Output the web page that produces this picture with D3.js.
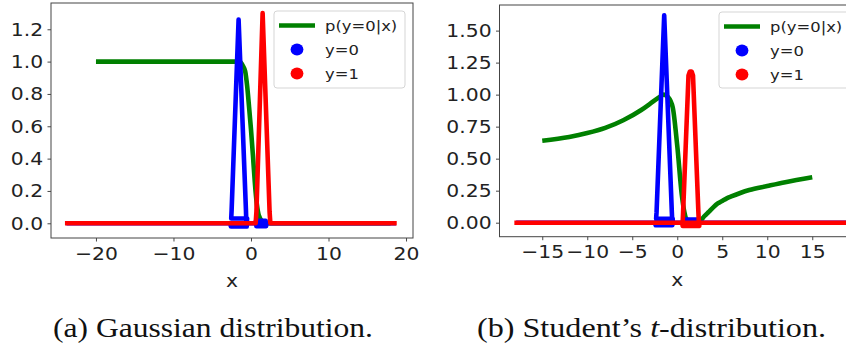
<!DOCTYPE html>
<html>
<head>
<meta charset="utf-8">
<script src="https://cdn.jsdelivr.net/npm/d3@7"></script>
<style>
  html, body { margin: 0; padding: 0; background: #fff; }
  svg { display: block; }
</style>
</head>
<body>
<svg id="chart" width="846" height="347"></svg>
<script>
// ---------- data ----------
const legendLabels = ["p(y=0|x)", "y=0", "y=1"];
const seriesColors = ["#008000", "#0000ff", "#ff0000"];

// Panel (a) Gaussian distribution
const xTicksA = [-20, -10, 0, 10, 20];
const yTicksA = [0, 0.2, 0.4, 0.6, 0.8, 1.0, 1.2];
const greenAX = [-20, -2, -1.5, -1, -0.75, -0.5, -0.25, 0, 0.25, 0.5, 0.75, 1, 1.5, 2, 18];
const greenAY = [1, 1, 1.0, 0.97, 0.94, 0.85, 0.72, 0.58, 0.42, 0.25, 0.12, 0.05, 0.01, 0, 0];
const blueAX = [-23.8, -2.65, -2.6, -0.55, -0.5, -2.55, -2.5, -1.6, -0.65, -0.6, 0.55, 0.65, 1.9, 1.95, 0.7, 0.65, 2.0, 18.7];
const blueAY = [0, 0, -0.02, -0.02, 0.03, 0.03, 0.08, 1.26, 0.08, 0, 0, 0.015, 0.015, -0.018, -0.018, 0, 0, 0];
const redAX = [-24, 0.6, 0.7, 1.5, 2.4, 2.5, 18.8];
const redAY = [0, 0, 0.07, 1.30, 0.07, 0, 0];

// Panel (b) Student's t-distribution
const xTicksB = [-15, -10, -5, 0, 5, 10, 15];
const yTicksB = [0, 0.25, 0.5, 0.75, 1.0, 1.25, 1.5];
const greenBX = [-15, -12, -10, -8, -6, -4, -3, -2, -1.5, -1, -0.5, 0, 0.5, 0.8, 1, 1.5, 2, 2.5, 3, 3.5, 4, 4.5, 5, 5.5, 6, 7, 8, 10, 12, 15];
const greenBY = [0.64, 0.67, 0.70, 0.74, 0.80, 0.88, 0.93, 0.98, 1.0, 0.98, 0.9, 0.6, 0.22, 0.08, 0.03, 0.005, 0, 0.01, 0.05, 0.085, 0.12, 0.15, 0.17, 0.19, 0.205, 0.232, 0.255, 0.286, 0.316, 0.355];
const blueBX = [-17.9, -2.45, -2.4, -0.55, -0.5, -2.35, -2.3, -1.45, -0.6, -0.55, 0.75, 0.8, 2.2, 2.2, 0.8, 0.75, 19.5];
const blueBY = [0, 0, -0.02, -0.02, 0.03, 0.03, 0.08, 1.62, 0.08, 0, 0, 0.025, 0.025, -0.01, -0.01, 0, 0];
const redBX = [-18.1, 0.6, 0.65, 1.25, 1.4, 1.6, 1.75, 2.35, 2.4, 2.45, 0.6, 0.55, 19.5];
const redBY = [0, 0, 0.08, 1.15, 1.18, 1.18, 1.15, 0.08, 0, -0.025, -0.025, 0, 0];

const captionA = ["(a) Gaussian distribution."];
const captionB = ["(b) Student\u2019s ", "t", "-distribution."];

// ---------- drawing ----------
const svg = d3.select("#chart");
const SX = 1.13;           // horizontal stretch of the reference image
const SANS = "'DejaVu Sans', sans-serif";
const SERIF = "'Liberation Serif', 'Times New Roman', serif";

function zip(xs, ys) { return xs.map((x, i) => [x, ys[i]]); }

function drawPanel(cfg) {
  const g = svg.append("g");
  const x = d3.scaleLinear().domain(cfg.xDomain).range([cfg.left, cfg.right]);
  const y = d3.scaleLinear().domain(cfg.yDomain).range([cfg.bottom, cfg.top]);
  const clipId = "clip" + cfg.id;
  svg.append("clipPath").attr("id", clipId).append("rect")
    .attr("x", cfg.left).attr("y", cfg.top)
    .attr("width", cfg.right - cfg.left).attr("height", cfg.bottom - cfg.top);

  const plot = g.append("g").attr("clip-path", `url(#${clipId})`);
  const line = d3.line().x(d => x(d[0])).y(d => y(d[1]));
  const smooth = d3.line().x(d => x(d[0])).y(d => y(d[1])).curve(d3.curveMonotoneX);

  cfg.series.forEach((s, i) => {
    plot.append("path")
      .datum(zip(s[0], s[1]))
      .attr("d", i === 0 ? smooth : line)
      .attr("fill", "none")
      .attr("stroke", seriesColors[i])
      .attr("stroke-width", 4.6)
      .attr("stroke-linejoin", "round")
      .attr("stroke-linecap", "butt");
  });

  // axes
  const xAxis = d3.axisBottom(x).tickValues(cfg.xTicks).tickSize(3.5).tickPadding(4)
    .tickFormat(d => d < 0 ? "\u2212" + Math.abs(d) : String(d));
  const yAxis = d3.axisLeft(y).tickValues(cfg.yTicks).tickSize(3.5).tickPadding(3.5)
    .tickFormat(d3.format(cfg.yFormat));
  const gx = g.append("g").attr("transform", `translate(0,${cfg.bottom})`).call(xAxis);
  const gy = g.append("g").attr("transform", `translate(${cfg.left},0)`).call(yAxis);
  [gx, gy].forEach(ax => {
    ax.select(".domain").remove();
    ax.selectAll(".tick line").attr("stroke", "#333").attr("stroke-width", 0.9);
    ax.selectAll(".tick text").attr("fill", "#222").attr("font-size", 18)
      .style("font-family", SANS).attr("transform", `scale(${SX},1)`);
  });
  gx.selectAll(".tick text").attr("dy", "0.78em");
  // frame
  g.append("rect")
    .attr("x", cfg.left).attr("y", cfg.top)
    .attr("width", cfg.right - cfg.left).attr("height", cfg.bottom - cfg.top)
    .attr("fill", "none").attr("stroke", "#444").attr("stroke-width", 1);

  // x label
  g.append("text")
    .attr("transform", `translate(${(cfg.left + cfg.right) / 2},${cfg.bottom + 49}) scale(${SX},1)`)
    .attr("text-anchor", "middle").attr("font-size", 18).attr("fill", "#222")
    .style("font-family", SANS).text("x");

  // legend
  const L = cfg.legend;
  const lg = g.append("g");
  lg.append("rect").attr("x", L.x).attr("y", L.y).attr("width", L.w).attr("height", L.h)
    .attr("rx", 3).attr("fill", "#fff").attr("fill-opacity", 0.85)
    .attr("stroke", "#d5d5d5").attr("stroke-width", 1);
  legendLabels.forEach((lab, i) => {
    const cy = L.y + 14.5 + i * 24;
    if (i === 0) {
      lg.append("line").attr("x1", L.x + 5).attr("x2", L.x + 41).attr("y1", cy).attr("y2", cy)
        .attr("stroke", seriesColors[0]).attr("stroke-width", 4.6);
    } else {
      lg.append("ellipse").attr("cx", L.x + 23).attr("cy", cy).attr("rx", 6.4).attr("ry", 6)
        .attr("fill", seriesColors[i]);
    }
    lg.append("text")
      .attr("transform", `translate(${L.x + 51},${cy}) scale(${SX},1)`)
      .attr("dy", "0.35em")
      .attr("font-size", 14.5).attr("fill", "#222").style("font-family", SANS).text(lab);
  });
}

drawPanel({
  id: "A", left: 51, right: 413, top: 3, bottom: 238,
  xDomain: [-25.8, 20.9], yDomain: [-0.091, 1.3625],
  xTicks: xTicksA, yTicks: yTicksA, yFormat: ".1f",
  series: [[greenAX, greenAY], [blueAX, blueAY], [redAX, redAY]],
  legend: { x: 274, y: 11, w: 131, h: 77 }
});

drawPanel({
  id: "B", left: 499.5, right: 855, top: 5, bottom: 236.7,
  xDomain: [-19.75, 19.75], yDomain: [-0.1094, 1.7],
  xTicks: xTicksB, yTicks: yTicksB, yFormat: ".2f",
  series: [[greenBX, greenBY], [blueBX, blueBY], [redBX, redBY]],
  legend: { x: 719, y: 12, w: 140, h: 76 }
});

// captions
svg.append("text").attr("x", 53).attr("y", 337)
  .style("font-family", SERIF).attr("font-size", 28)
  .attr("fill", "#111").attr("textLength", 320).attr("lengthAdjust", "spacingAndGlyphs")
  .text(captionA[0]);
const cb = svg.append("text").attr("x", 477).attr("y", 337)
  .style("font-family", SERIF).attr("font-size", 28)
  .attr("fill", "#111").attr("textLength", 349).attr("lengthAdjust", "spacingAndGlyphs");
cb.append("tspan").text(captionB[0]);
cb.append("tspan").attr("font-style", "italic").text(captionB[1]);
cb.append("tspan").text(captionB[2]);
</script>
</body>
</html>
